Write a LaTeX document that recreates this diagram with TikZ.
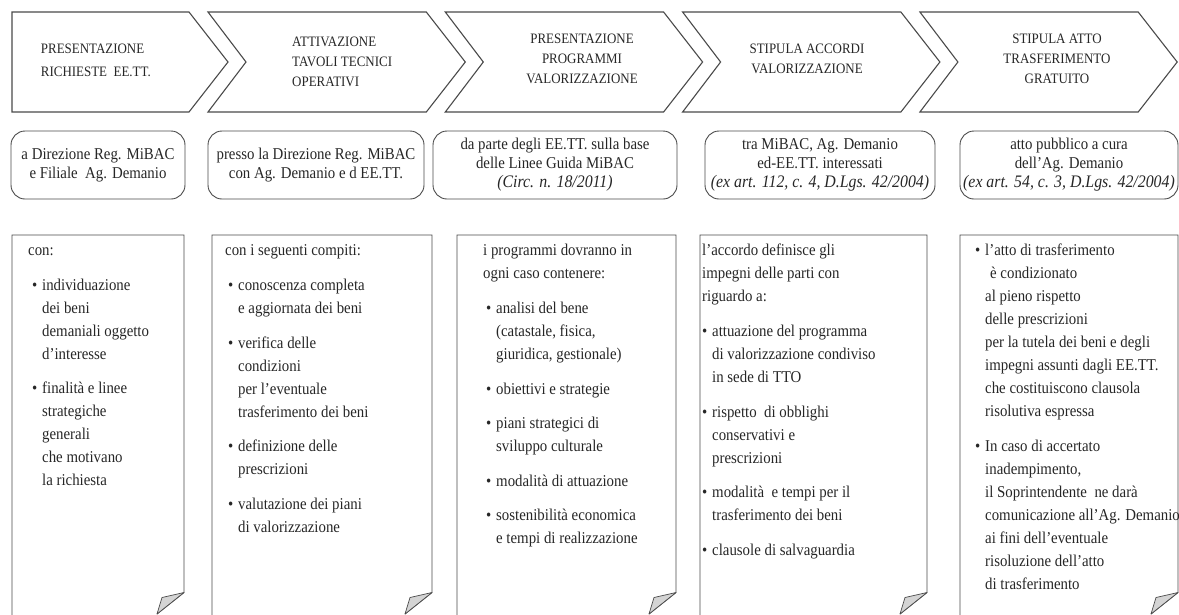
\documentclass[tikz,border=0pt]{standalone}
\usepackage{fontspec}
\setmainfont{Liberation Serif}[FakeStretch=0.9]
\definecolor{ln}{HTML}{4A4A4A}
\definecolor{fold}{HTML}{D4D4D4}
\newcommand\bu{\makebox[10pt][l]{\textbullet}}
\newcommand\ci{\hspace*{10pt}}
\newcommand\cit[1]{{\fontsize{17.6}{19}\selectfont\itshape #1}}
\tikzset{
  chev/.style={draw=ln, line width=1.1pt, line join=miter},
  ctext/.style={font={\fontsize{14.4}{20}\selectfont}, inner sep=0pt, text=black!85},
  rbox/.style={draw=ln, line width=0.9pt, rounded corners=14pt, inner sep=0pt, align=center,
    font={\fontsize{16.5}{19}\selectfont}, text=black!85},
  panel/.style={draw=ln, line width=0.9pt},
  flap/.style={draw=ln, line width=0.7pt, fill=fold, line join=round},
  ptext/.style={font={\fontsize{16.5}{23}\selectfont}, inner sep=0pt, align=left, anchor=north west, text=black!85},
}
\begin{document}
\begin{tikzpicture}[x=1pt,y=-1pt]
\useasboundingbox (0,0) rectangle (1179,614);
% ---------- chevrons ----------
\draw[chev] (12,12) -- (189,12) -- (228,62) -- (189,112) -- (12,112) -- cycle;
\foreach \i in {1,2,3,4}{
  \pgfmathsetmacro\L{208+237.3*(\i-1)}
  \pgfmathsetmacro\R{189+237.3*\i}
  \draw[chev] (\L,12) -- (\R,12) -- (\R+39,62) -- (\R,112) -- (\L,112) -- (\L+38,62) -- cycle;
}
\node[ctext, anchor=north west, align=left] (c1) at (40.7,43) {\rule{0pt}{10pt}PRESENTAZIONE\\[3pt]RICHIESTE\ \ EE.TT.};
\node[ctext, anchor=north west, align=left] (c2) at (292,36) {\rule{0pt}{10pt}ATTIVAZIONE\\TAVOLI TECNICI\\OPERATIVI};
\node[ctext, anchor=north, align=center] (c3) at (582,33) {\rule{0pt}{10pt}PRESENTAZIONE\\PROGRAMMI\\VALORIZZAZIONE};
\node[ctext, anchor=north, align=center] (c4) at (807,43) {\rule{0pt}{10pt}STIPULA ACCORDI\\VALORIZZAZIONE};
\node[ctext, anchor=north, align=center] (c5) at (1057,33) {\rule{0pt}{10pt}STIPULA ATTO\\TRASFERIMENTO\\GRATUITO};
% ---------- rounded boxes ----------
\node[rbox, minimum width=174pt, minimum height=68pt] (b1) at (98,165) {a Direzione Reg. MiBAC\\e Filiale\ \ Ag. Demanio};
\node[rbox, minimum width=216pt, minimum height=68pt] (b2) at (316,165) {presso la Direzione Reg. MiBAC\\con Ag. Demanio e d EE.TT.};
\node[rbox, minimum width=244pt, minimum height=68pt] (b3) at (555,165) {da parte degli EE.TT. sulla base\\delle Linee Guida MiBAC\\\cit{(Circ. n. 18/2011)}};
\node[rbox, minimum width=230pt, minimum height=68pt] (b4) at (820,165) {tra MiBAC, Ag. Demanio\\ed-EE.TT. interessati\\\cit{(ex art. 112, c. 4, D.Lgs. 42/2004)}};
\node[rbox, minimum width=218pt, minimum height=68pt] (b5) at (1069,165) {atto pubblico a cura\\dell’Ag. Demanio\\\cit{(ex art. 54, c. 3, D.Lgs. 42/2004)}};
% ---------- panels ----------
\foreach \a/\b in {12/184, 212/432, 457/676, 700/927, 960/1178}{
  \draw[panel] (\a,616) -- (\a,235) -- (\b,235) -- (\b,592.5) -- (\b-27,614);
  \draw[flap] (\b,592.5) -- (\b-22,597.5) -- (\b-27,614) -- cycle;
}
% panel 1
\node[ptext] (p1a) at (28,244) {\rule{0pt}{11pt}con:};
\node[ptext] (p1b) at (32,279) {\rule{0pt}{11pt}\bu individuazione\\\ci dei beni\\\ci demaniali oggetto\\\ci d’interesse\\[11pt]
\bu finalità e linee\\\ci strategiche\\\ci generali\\\ci che motivano\\\ci la richiesta};
% panel 2
\node[ptext] (p2a) at (225,244) {\rule{0pt}{11pt}con i seguenti compiti:};
\node[ptext] (p2b) at (228,279) {\rule{0pt}{11pt}\bu conoscenza completa\\\ci e aggiornata dei beni\\[11.5pt]
\bu verifica delle\\\ci condizioni\\\ci per l’eventuale\\\ci trasferimento dei beni\\[11.5pt]
\bu definizione delle\\\ci prescrizioni\\[11.5pt]
\bu valutazione dei piani\\\ci di valorizzazione};
% panel 3
\node[ptext] (p3a) at (483,244) {\rule{0pt}{11pt}i programmi dovranno in\\ogni caso contenere:};
\node[ptext] (p3b) at (486,302) {\rule{0pt}{11pt}\bu analisi del bene\\\ci (catastale, fisica,\\\ci giuridica, gestionale)\\[11.5pt]
\bu obiettivi e strategie\\[11.5pt]
\bu piani strategici di\\\ci sviluppo culturale\\[11.5pt]
\bu modalità di attuazione\\[11.5pt]
\bu sostenibilità economica\\\ci e tempi di realizzazione};
% panel 4
\node[ptext] (p4a) at (702,244) {\rule{0pt}{11pt}l’accordo definisce gli\\impegni delle parti con\\riguardo a:};
\node[ptext] (p4b) at (702,325) {\rule{0pt}{11pt}\bu attuazione del programma\\\ci di valorizzazione condiviso\\\ci in sede di TTO\\[11.5pt]
\bu rispetto\ \ di obblighi\\\ci conservativi e\\\ci prescrizioni\\[11.5pt]
\bu modalità\ \ e tempi per il\\\ci trasferimento dei beni\\[11.5pt]
\bu clausole di salvaguardia};
% panel 5
\node[ptext] (p5) at (975,244) {\rule{0pt}{11pt}\bu l’atto di trasferimento\\\ci\hspace*{5pt}è condizionato\\\ci al pieno rispetto\\\ci delle prescrizioni\\\ci per la tutela dei beni e degli\\\ci impegni assunti dagli EE.TT.\\\ci che costituiscono clausola\\\ci risolutiva espressa\\[11.5pt]
\bu In caso di accertato\\\ci inadempimento,\\\ci il Soprintendente\ \ ne darà\\\ci comunicazione all’Ag. Demanio\\\ci ai fini dell’eventuale\\\ci risoluzione dell’atto\\\ci di trasferimento};
\end{tikzpicture}
\end{document}
